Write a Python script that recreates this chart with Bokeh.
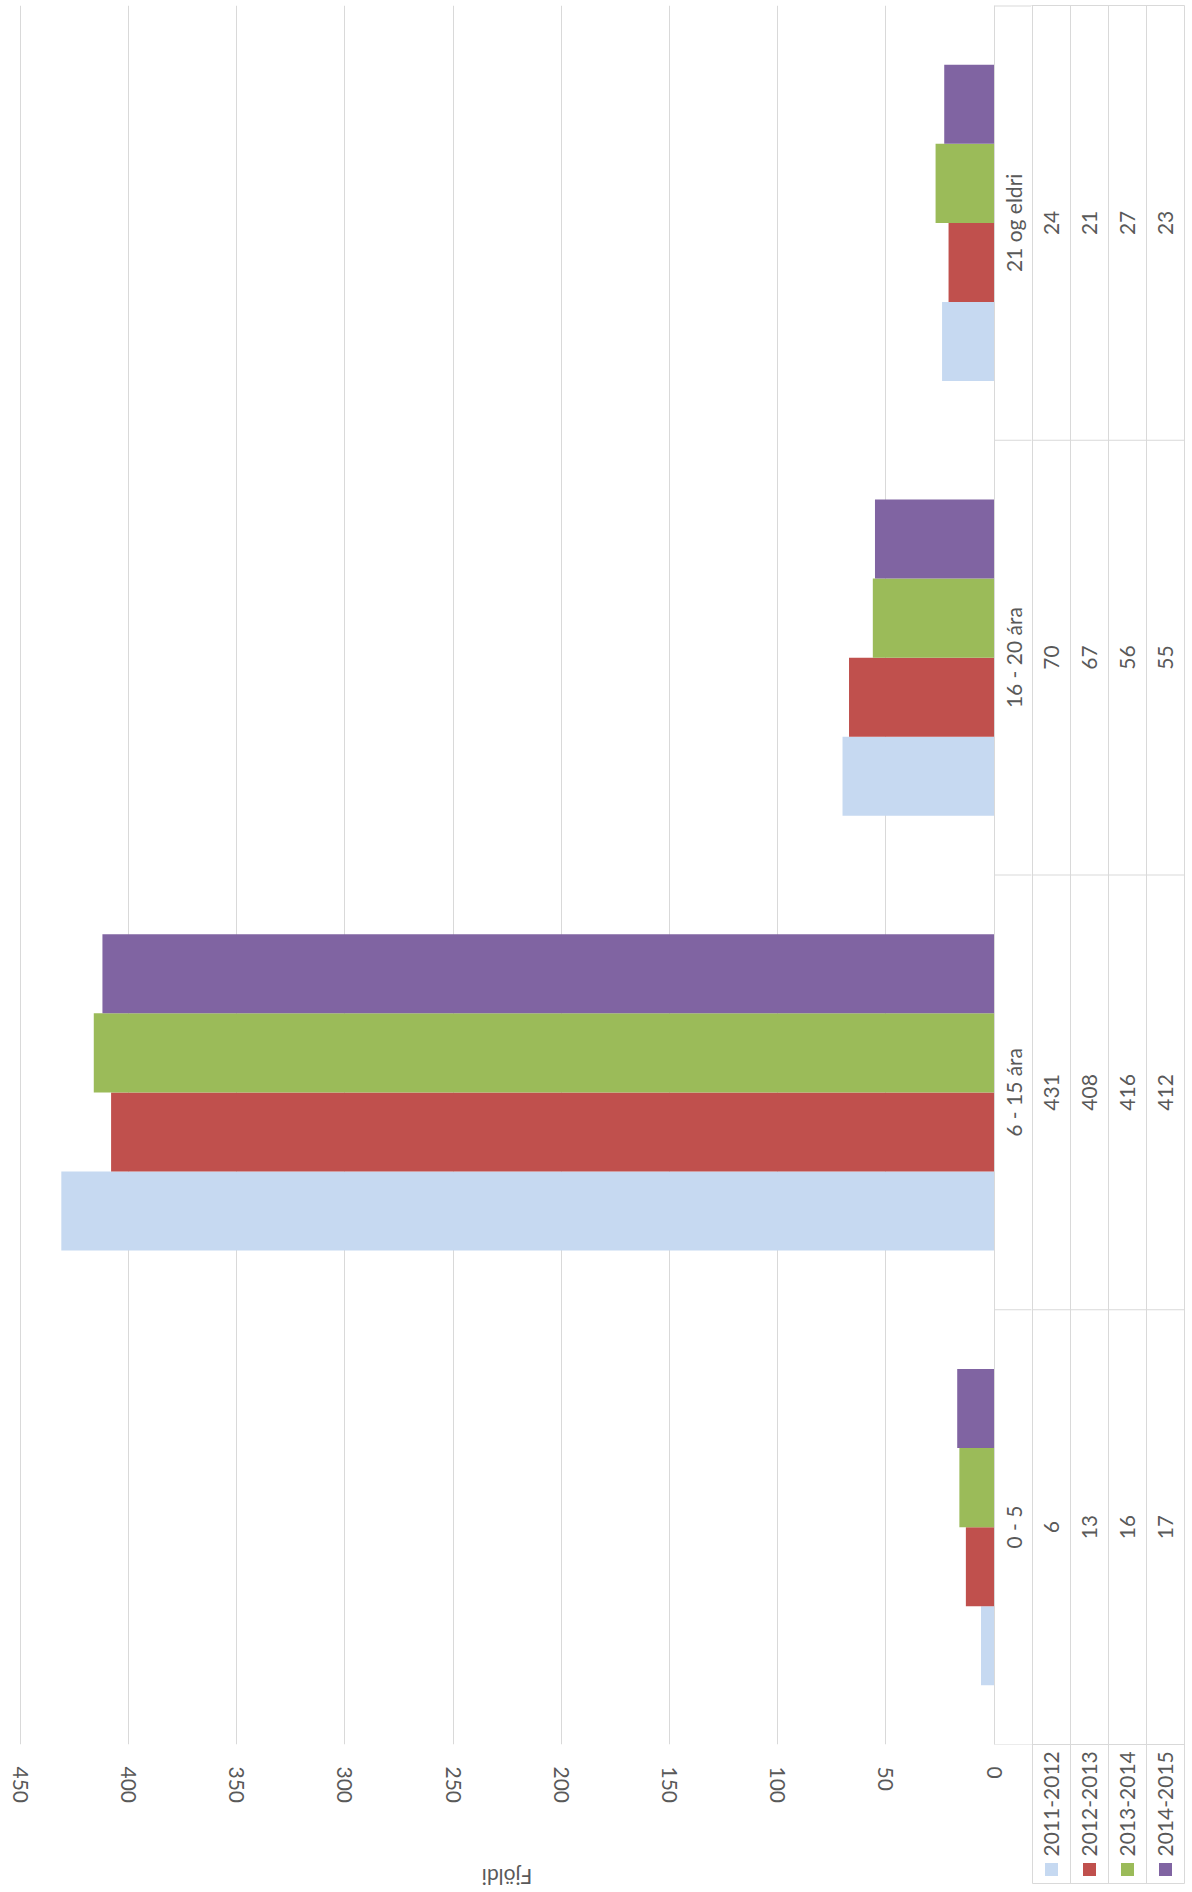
import math
from bokeh.plotting import figure
from bokeh.models import ColumnDataSource, Range1d, FactorRange, FixedTicker
from bokeh.transform import dodge
from bokeh.layouts import row, column
from bokeh.core.properties import value
from bokeh.embed import file_html
from bokeh.resources import INLINE

# ---------------- data ----------------
categories = ["0 - 5", "6 - 15 ára", "16 - 20 ára", "21 og eldri"]
series_names = ["2011-2012", "2012-2013", "2013-2014", "2014-2015"]
v_2011_2012 = [6, 431, 70, 24]
v_2012_2013 = [13, 408, 67, 21]
v_2013_2014 = [16, 416, 56, 27]
v_2014_2015 = [17, 412, 55, 23]
series_values = [v_2011_2012, v_2012_2013, v_2013_2014, v_2014_2015]
colors = ["#C6D9F1", "#C0504D", "#9BBB59", "#8064A2"]
value_ticks = [0, 50, 100, 150, 200, 250, 300, 350, 400, 450]
axis_title = "Fjöldi"

# ---------------- style / layout ----------------
FONT = value("Lato")
FSIZE = "21px"
TXT = "#595959"
GRID = "#D9D9D9"

H = 1890           # total height
H1 = 1815          # main chart height (title strip below it)
H3 = H - H1
TOP = 5            # page y of plot-area top
AXIS_Y = 1744      # page y of category axis
FRAME_H = AXIS_Y - TOP
BAND = FRAME_H / 4.0
TABLE_X = 994      # page x of table's left border
W1 = 1031          # main canvas includes the table's category-label column
W2 = 1190 - W1
COL = 38.0
SCALE = (993.5 - 19.7) / 450.0
X_START = 450 + 19.7 / SCALE
X_END = -(W1 - 993.5) / SCALE
CAT_LABEL_X = -(1013 - 993.5) / SCALE
U0 = (W1 - TABLE_X) / COL


def py(page_y):
    """page y (px) -> band units relative to the category axis"""
    return -(page_y - AXIS_Y) / BAND


def no_align(p):
    try:
        p.frame_align = False
    except Exception:
        pass


# ---------------- main chart ----------------
p1 = figure(width=W1, height=H1, output_backend="svg", toolbar_location=None,
            frame_width=W1, frame_height=FRAME_H,
            x_range=Range1d(X_START, X_END),
            y_range=FactorRange(factors=categories, range_padding=0),
            y_axis_location=None,
            min_border_left=0, min_border_right=0,
            min_border_top=TOP, min_border_bottom=H1 - AXIS_Y)
no_align(p1)
p1.outline_line_color = None
p1.background_fill_color = "white"
p1.border_fill_color = "white"
p1.ygrid.visible = False
p1.xgrid.ticker = FixedTicker(ticks=value_ticks)
p1.xgrid.grid_line_color = GRID
p1.xgrid.grid_line_width = 1

ax = p1.xaxis[0]
ax.ticker = FixedTicker(ticks=value_ticks)
ax.axis_line_color = None
ax.major_tick_line_color = None
ax.minor_tick_line_color = None
ax.major_tick_out = 0
ax.major_tick_in = 0
ax.minor_tick_out = 0
ax.major_label_orientation = "vertical"
ax.major_label_standoff = 22
ax.major_label_text_font = "Lato"
ax.major_label_text_font_size = FSIZE
ax.major_label_text_color = TXT

src = ColumnDataSource(dict(cat=categories,
                            s0=v_2011_2012, s1=v_2012_2013,
                            s2=v_2013_2014, s3=v_2014_2015))
bar_h = 1 / 5.5
for k in range(4):
    off = (k - 1.5) * bar_h
    p1.hbar(y=dodge("cat", off, range=p1.y_range), left=0, right=f"s{k}",
            height=bar_h, source=src, fill_color=colors[k], line_color=None)

# table: category column (row borders + labels) drawn on the main canvas
p1.segment(x0=0, x1=X_END, y0=dodge("cat", -0.5, range=p1.y_range),
           y1=dodge("cat", -0.5, range=p1.y_range), source=src,
           line_color=GRID, line_width=1)
top_src = ColumnDataSource(dict(c=[categories[-1]]))
p1.segment(x0=0, x1=X_END, y0=dodge("c", 0.5, range=p1.y_range),
           y1=dodge("c", 0.5, range=p1.y_range), source=top_src,
           line_color=GRID, line_width=2)
p1.text(x=CAT_LABEL_X, y="cat", text="cat", source=src, angle=math.pi / 2,
        text_align="center", text_baseline="middle", text_font=FONT,
        text_font_size=FSIZE, text_color=TXT)

# ---------------- value-axis title strip ----------------
p3 = figure(width=W1, height=H3, output_backend="svg", toolbar_location=None,
            frame_width=W1, frame_height=H3,
            x_range=p1.x_range, y_range=Range1d(0, 1),
            min_border_left=0, min_border_right=0, min_border_top=0, min_border_bottom=0,
            x_axis_location=None, y_axis_location=None)
no_align(p3)
p3.outline_line_color = None
p3.grid.visible = False
p3.background_fill_color = "white"
p3.border_fill_color = "white"
p3.text(x=[(value_ticks[0] + value_ticks[-1]) / 2], y=[1 - (1877 - H1) / H3],
        text=[axis_title], angle=math.pi, text_align="center", text_baseline="middle",
        text_font=FONT, text_font_size=FSIZE, text_color=TXT)

# ---------------- data table (value columns + legend header) ----------------
y_top = 4 + TOP / BAND
y_bot = -(H - AXIS_Y) / BAND
y_hdr = py(1883)
p2 = figure(width=W2, height=H, output_backend="svg", toolbar_location=None,
            frame_width=W2, frame_height=H,
            x_range=Range1d(U0, U0 + W2 / COL), y_range=Range1d(y_bot, y_top),
            min_border_left=0, min_border_right=0, min_border_top=0, min_border_bottom=0,
            x_axis_location=None, y_axis_location=None)
no_align(p2)
p2.outline_line_color = None
p2.grid.visible = False
p2.background_fill_color = "white"
p2.border_fill_color = "white"

n = len(categories)
p2.segment(x0=[0] * (n + 1), x1=[5] * (n + 1), y0=list(range(n + 1)), y1=list(range(n + 1)),
           line_color=GRID, line_width=1)
p2.segment(x0=[1, 2, 3, 4, 5], x1=[1, 2, 3, 4, 5], y0=[y_hdr] * 5, y1=[n] * 5,
           line_color=GRID, line_width=1)
p2.segment(x0=[1], x1=[5], y0=[y_hdr], y1=[y_hdr], line_color=GRID, line_width=1)

for k, vals in enumerate(series_values):
    p2.text(x=[k + 1.5] * n, y=[i + 0.5 for i in range(n)], text=[str(v) for v in vals],
            angle=math.pi / 2, text_align="center", text_baseline="middle",
            text_font=FONT, text_font_size=FSIZE, text_color=TXT)

p2.scatter(x=[k + 1.5 for k in range(4)], y=[py(1869)] * 4, marker="square", size=13,
           fill_color=colors, line_color=None)
p2.text(x=[k + 1.5 for k in range(4)], y=[py(1856)] * 4, text=series_names,
        angle=math.pi / 2, text_align="left", text_baseline="middle",
        text_font=FONT, text_font_size=FSIZE, text_color=TXT)

layout = row(column(p1, p3), p2)
open("out.html", "w").write(file_html(layout, INLINE))
